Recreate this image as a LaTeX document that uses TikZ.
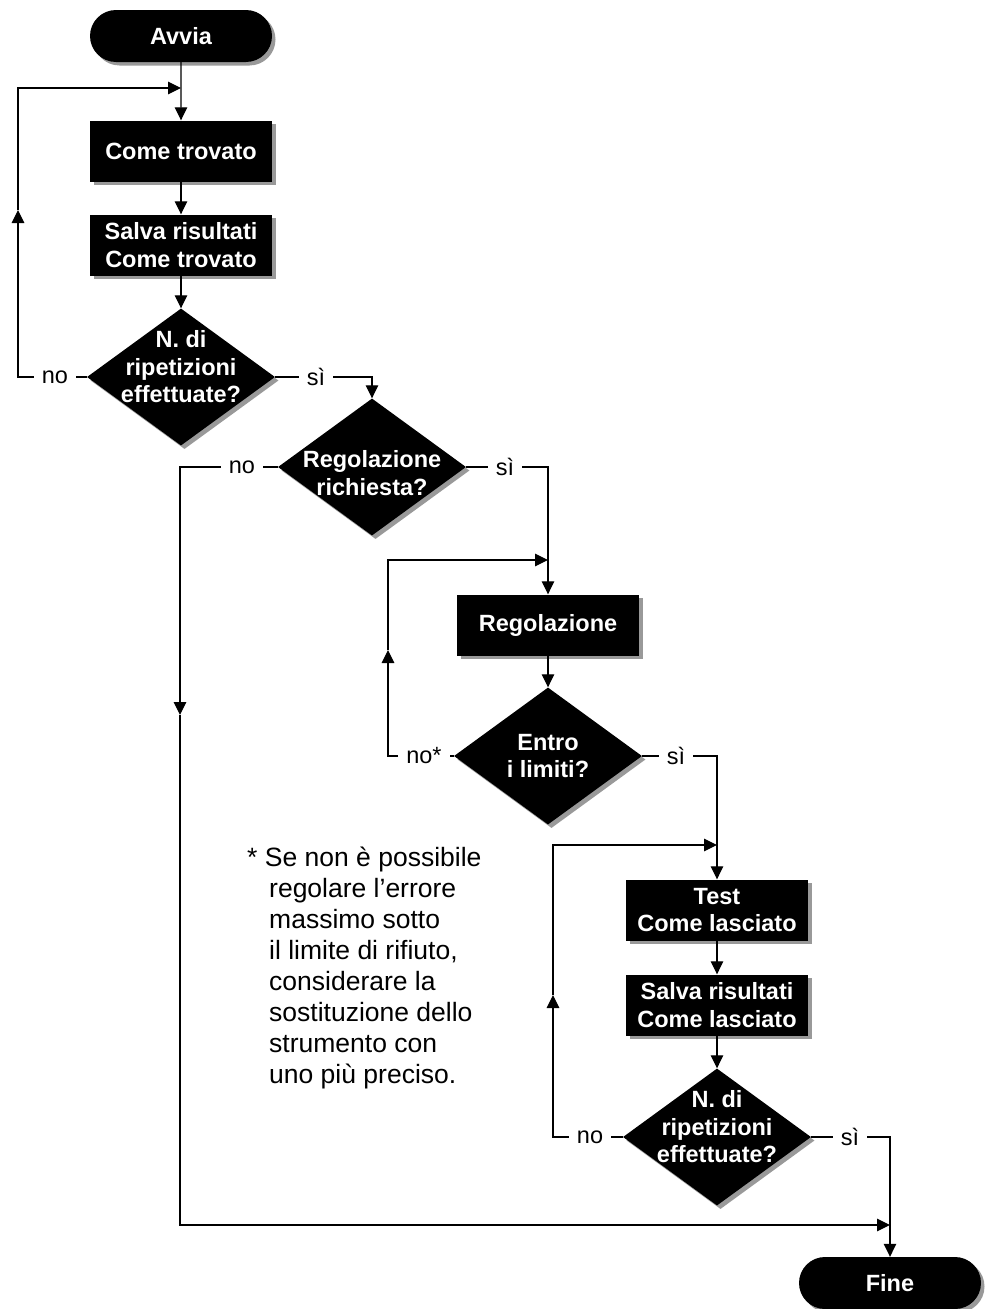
\documentclass[tikz,border=0pt]{standalone}
\usepackage{fontspec}
\setmainfont{Liberation Sans}
\usetikzlibrary{arrows.meta, positioning, calc, shapes.geometric, shapes.misc, shadows}

\tikzset{
  blk/.style={fill=black, text=white, font=\bfseries\fontsize{23.5}{27.5}\selectfont, align=center,
    drop shadow={shadow xshift=3.5pt, shadow yshift=-3.5pt, fill=black!40, opacity=1}},
  procbox/.style={blk, rectangle, minimum width=182pt, minimum height=61pt, inner sep=0pt},
  termbox/.style={blk, rounded rectangle, minimum width=182pt, minimum height=52pt, inner sep=0pt},
  decbox/.style={blk, diamond, minimum width=188pt, minimum height=137pt, inner sep=0pt},
  dtext/.style={text=white, font=\bfseries\fontsize{23.5}{27.5}\selectfont, align=center, inner sep=0pt},
  lbl/.style={font=\fontsize{23.5}{27}\selectfont, inner xsep=8pt, inner ysep=0pt},
  flow/.style={line width=1.2pt},
  arr/.style={flow, -{Triangle[length=13pt, width=12.5pt]}},
}

\begin{document}
\begin{tikzpicture}[x=1pt, y=1pt]
    \useasboundingbox (0,0) rectangle (985,-1309);

    % blocchi
    \node[termbox] (avvia) at (181,-36) {Avvia};
    \node[procbox] (come) at (181,-151) {Come trovato};
    \node[procbox] (salva1) at (181,-245) {Salva risultati\\Come trovato};
    \node[decbox, label={[dtext, yshift=10pt]center:N. di\\ripetizioni\\effettuate?}] (rip1) at (181,-377) {};
    \node[decbox, label={[dtext, yshift=-6pt]center:Regolazione\\richiesta?}] (regq) at (372,-467) {};
    \node[procbox] (reg) at (548,-625) {Regolazione};
    \node[decbox, label={[dtext]center:Entro\\i limiti?}] (entro) at (548,-756) {};
    \node[procbox] (test) at (717,-910) {Test\\Come lasciato};
    \node[procbox] (salva2) at (717,-1005) {Salva risultati\\Come lasciato};
    \node[decbox, label={[dtext, yshift=10pt]center:N. di\\ripetizioni\\effettuate?}] (rip2) at (717,-1137) {};
    \node[termbox] (fine) at (890,-1283) {Fine};

    % etichette
    \node[lbl] (no1) at (55,-377) {no};
    \node[lbl] (si1) at (316,-377) {sì};
    \node[lbl] (no2) at (242,-467) {no};
    \node[lbl] (si2) at (505,-467) {sì};
    \node[lbl] (no3) at (424,-756) {no*};
    \node[lbl] (si3) at (676,-756) {sì};
    \node[lbl] (no4) at (590,-1137) {no};
    \node[lbl] (si4) at (850,-1137) {sì};

    % punti di giunzione
    \coordinate (j1) at (181,-88);
    \coordinate (j2) at (548,-560);
    \coordinate (j3) at (717,-845);
    \coordinate (j4) at (890,-1225);
    \coordinate (u1) at (18,-210);
    \coordinate (u2) at (388,-650);
    \coordinate (u3) at (553,-995);
    \coordinate (dn) at (180,-715);

    % flusso principale
    \draw[arr] (avvia) -- (come);
    \draw[arr] (come) -- (salva1);
    \draw[arr] (salva1) -- (rip1);
    \draw[flow] (rip1.east) -- (si1);
    \draw[arr] (si1.east) -| (regq.north);
    \draw[flow] (regq.east) -- (si2);
    \draw[arr] (si2.east) -| (reg.north);
    \draw[arr] (reg) -- (entro);
    \draw[flow] (entro.east) -- (si3);
    \draw[arr] (si3.east) -| (test.north);
    \draw[arr] (test) -- (salva2);
    \draw[arr] (salva2) -- (rip2);
    \draw[flow] (rip2.east) -- (si4);
    \draw[arr] (si4.east) -| (fine.north);

    % ritorni
    \draw[flow] (rip1.west) -- (no1);
    \draw[arr] (no1.west) -| (u1);
    \draw[arr] (u1) |- (j1);
    \draw[flow] (regq.west) -- (no2);
    \draw[arr] (no2.west) -| (dn);
    \draw[arr] (dn) |- (j4);
    \draw[flow] (entro.west) -- (no3);
    \draw[arr] (no3.west) -| (u2);
    \draw[arr] (u2) |- (j2);
    \draw[flow] (rip2.west) -- (no4);
    \draw[arr] (no4.west) -| (u3);
    \draw[arr] (u3) |- (j3);

    % nota
    \node[anchor=north west, align=left, inner sep=0pt, font=\fontsize{26.5}{31}\selectfont] (nota) at (247,-847)
      {* Se non è possibile\\
       \hspace*{22pt}regolare l'errore\\
       \hspace*{22pt}massimo sotto\\
       \hspace*{22pt}il limite di rifiuto,\\
       \hspace*{22pt}considerare la\\
       \hspace*{22pt}sostituzione dello\\
       \hspace*{22pt}strumento con\\
       \hspace*{22pt}uno più preciso.};
\end{tikzpicture}
\end{document}
